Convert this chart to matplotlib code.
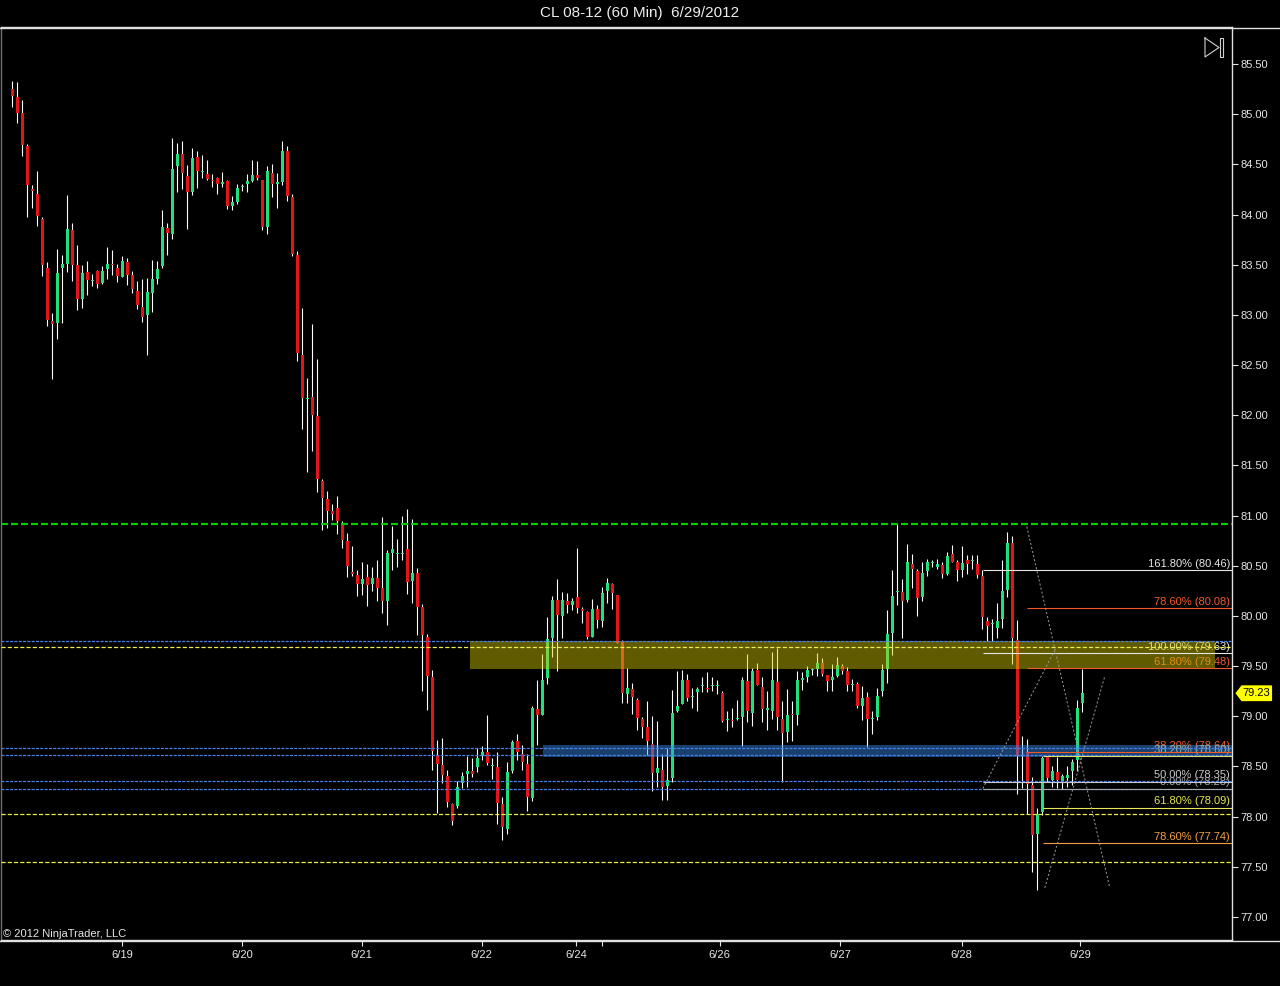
import matplotlib
matplotlib.use('Agg')
import matplotlib.pyplot as plt
import numpy as np
from matplotlib.transforms import blended_transform_factory
from matplotlib.patches import Polygon, Rectangle
from matplotlib.lines import Line2D

plt.rcParams['font.family'] = ['Liberation Sans', 'DejaVu Sans']
plt.rcParams['lines.scale_dashes'] = False

title = "CL 08-12 (60 Min)  6/29/2012"
copyright_txt = "\u00a9 2012 NinjaTrader, LLC"

opens = [85.25, 85.17, 85.01, 84.68, 84.25, 84.20, 83.96, 83.47, 82.94, 82.92,
         83.47, 83.51, 83.85, 83.50, 83.16, 83.43, 83.34, 83.44, 83.32, 83.46,
         83.51, 83.47, 83.38, 83.53, 83.40, 83.24, 83.08, 83.00, 83.22, 83.36,
         83.49, 83.87, 83.81, 84.48, 84.60, 84.38, 84.22, 84.57, 84.42, 84.40,
         84.34, 84.36, 84.30, 84.33, 84.09, 84.13, 84.27, 84.30, 84.33, 84.39,
         84.34, 83.88, 84.41, 84.30, 84.32, 84.63, 84.17, 83.60, 82.60, 82.16,
         82.18, 81.99, 81.34, 81.17, 81.05, 81.08, 80.91, 80.75, 80.44, 80.41,
         80.32, 80.39, 80.32, 80.38, 80.28, 80.15, 80.63, 80.62, 80.62, 80.67,
         80.35, 80.43, 80.09, 79.79, 79.39, 78.61, 78.51, 78.41, 78.13, 78.11,
         78.34, 78.43, 78.46, 78.49, 78.60, 78.64, 78.50, 78.49, 78.13, 77.88,
         78.46, 78.75, 78.62, 78.52, 78.19, 79.07, 79.01, 79.38, 79.78, 80.16,
         80.00, 80.15, 80.11, 80.19, 80.07, 80.04, 79.79, 80.07, 79.95, 80.25,
         80.32, 80.21, 79.74, 79.22, 79.27, 79.16, 78.97, 78.89, 78.72, 78.44,
         78.47, 78.31, 78.39, 79.05, 79.12, 79.36, 79.19, 79.24, 79.30, 79.28,
         79.30, 79.30, 79.23, 78.96, 78.96, 78.97, 78.99, 79.35, 79.03, 79.46,
         79.29, 79.06, 79.05, 79.34, 78.97, 78.84, 79.02, 79.01, 79.36, 79.39,
         79.46, 79.47, 79.53, 79.41, 79.36, 79.40, 79.50, 79.45, 79.31, 79.32,
         79.10, 79.19, 78.97, 78.99, 79.25, 79.47, 79.83, 80.24, 80.24, 80.16,
         80.52, 80.45, 80.19, 80.45, 80.53, 80.49, 80.51, 80.42, 80.62, 80.54,
         80.46, 80.56, 80.55, 80.52, 80.40, 79.95, 79.92, 79.88, 79.97, 80.26,
         80.73, 79.76, 78.60, 78.64, 78.32, 77.83, 78.05, 78.59, 78.37, 78.45,
         78.36, 78.39, 78.46, 78.56, 79.13]
highs = [85.33, 85.32, 85.14, 84.70, 84.29, 84.43, 83.98, 83.53, 83.02, 83.66,
         83.60, 84.19, 83.92, 83.70, 83.50, 83.54, 83.41, 83.45, 83.49, 83.68,
         83.65, 83.51, 83.59, 83.57, 83.44, 83.34, 83.36, 83.37, 83.55, 83.54,
         84.05, 83.92, 84.76, 84.71, 84.73, 84.49, 84.66, 84.63, 84.59, 84.54,
         84.40, 84.37, 84.42, 84.34, 84.18, 84.30, 84.30, 84.40, 84.54, 84.53,
         84.34, 84.48, 84.50, 84.41, 84.73, 84.68, 84.20, 83.64, 83.07, 82.37,
         82.91, 82.56, 81.36, 81.25, 81.12, 81.20, 80.95, 80.83, 80.70, 80.46,
         80.54, 80.52, 80.49, 80.56, 80.99, 80.66, 80.90, 80.77, 81.00, 81.07,
         80.97, 80.48, 80.12, 79.82, 79.46, 78.76, 78.78, 78.47, 78.14, 78.36,
         78.45, 78.60, 78.58, 78.68, 78.70, 79.01, 78.58, 78.64, 78.20, 78.54,
         78.76, 78.82, 78.71, 78.62, 79.10, 79.36, 79.62, 79.99, 80.20, 80.37,
         80.24, 80.23, 80.18, 80.68, 80.09, 80.05, 80.17, 80.11, 80.29, 80.38,
         80.33, 80.21, 79.76, 79.48, 79.33, 79.18, 78.99, 79.15, 79.00, 78.95,
         78.62, 78.68, 79.26, 79.45, 79.46, 79.42, 79.28, 79.29, 79.39, 79.44,
         79.39, 79.36, 79.25, 79.05, 79.08, 79.16, 79.39, 79.62, 79.48, 79.53,
         79.39, 79.25, 79.64, 79.68, 79.15, 79.27, 79.15, 79.45, 79.44, 79.50,
         79.48, 79.63, 79.58, 79.41, 79.52, 79.59, 79.52, 79.49, 79.37, 79.34,
         79.30, 79.24, 79.05, 79.28, 79.52, 80.06, 80.46, 80.92, 80.37, 80.72,
         80.62, 80.47, 80.54, 80.57, 80.56, 80.57, 80.54, 80.64, 80.71, 80.56,
         80.70, 80.61, 80.61, 80.61, 80.46, 79.99, 79.97, 80.13, 80.56, 80.84,
         80.80, 79.96, 78.80, 78.77, 78.40, 78.09, 78.60, 78.60, 78.50, 78.59,
         78.43, 78.50, 78.57, 79.16, 79.47]
lows = [85.07, 84.91, 84.58, 83.98, 84.07, 83.89, 83.39, 82.89, 82.36, 82.76,
        82.92, 83.43, 83.34, 83.05, 83.07, 83.20, 83.29, 83.27, 83.31, 83.36,
        83.40, 83.33, 83.38, 83.30, 83.22, 83.06, 82.93, 82.60, 83.03, 83.31,
        83.47, 83.60, 83.76, 84.22, 84.25, 83.86, 84.19, 84.26, 84.36, 84.34,
        84.27, 84.20, 84.27, 84.06, 84.05, 84.11, 84.23, 84.22, 84.32, 84.34,
        83.85, 83.81, 84.17, 84.07, 84.29, 84.14, 83.59, 82.54, 81.86, 81.43,
        81.64, 81.24, 80.86, 80.88, 80.96, 80.82, 80.68, 80.39, 80.40, 80.20,
        80.21, 80.10, 80.25, 80.15, 80.03, 79.91, 80.46, 80.49, 80.56, 80.22,
        80.13, 79.81, 79.25, 79.06, 78.47, 78.04, 78.34, 78.10, 77.92, 78.09,
        78.29, 78.30, 78.40, 78.45, 78.56, 78.51, 78.38, 77.93, 77.77, 77.83,
        78.44, 78.56, 78.47, 78.06, 78.16, 78.71, 79.01, 79.32, 79.59, 79.45,
        79.78, 80.03, 80.06, 80.03, 79.93, 79.77, 79.79, 79.88, 79.89, 80.13,
        80.07, 79.73, 79.13, 79.13, 79.02, 78.86, 78.78, 78.61, 78.26, 78.30,
        78.17, 78.17, 78.35, 79.04, 79.12, 79.15, 79.08, 79.05, 79.24, 79.24,
        79.25, 79.22, 78.94, 78.85, 78.89, 78.96, 78.70, 78.94, 78.90, 79.31,
        78.94, 78.86, 78.97, 78.86, 78.35, 78.74, 78.75, 78.91, 79.26, 79.34,
        79.41, 79.40, 79.40, 79.25, 79.25, 79.39, 79.42, 79.25, 79.25, 79.08,
        78.96, 78.69, 78.82, 78.96, 79.20, 79.33, 79.61, 80.11, 79.78, 80.14,
        80.28, 80.00, 80.15, 80.40, 80.49, 80.47, 80.38, 80.41, 80.54, 80.35,
        80.39, 80.42, 80.47, 80.38, 79.87, 79.75, 79.75, 79.78, 79.88, 80.19,
        79.52, 78.23, 78.29, 78.03, 77.45, 77.27, 78.02, 78.35, 78.30, 78.29,
        78.28, 78.30, 78.32, 78.46, 79.04]
closes = [85.18, 85.01, 84.69, 84.29, 84.23, 83.99, 83.50, 82.95, 82.91, 83.42,
          83.51, 83.86, 83.50, 83.16, 83.42, 83.35, 83.35, 83.31, 83.44, 83.51,
          83.50, 83.39, 83.54, 83.40, 83.26, 83.10, 82.98, 83.23, 83.36, 83.46,
          83.88, 83.82, 84.45, 84.60, 84.41, 84.22, 84.56, 84.43, 84.43, 84.35,
          84.33, 84.30, 84.32, 84.09, 84.13, 84.26, 84.28, 84.33, 84.39, 84.36,
          83.88, 84.43, 84.30, 84.32, 84.63, 84.18, 83.61, 82.62, 82.17, 82.17,
          82.00, 81.36, 81.18, 81.05, 81.02, 80.95, 80.76, 80.50, 80.42, 80.32,
          80.37, 80.31, 80.38, 80.28, 80.15, 80.63, 80.67, 80.63, 80.63, 80.34,
          80.43, 80.09, 79.81, 79.40, 78.65, 78.52, 78.42, 78.15, 77.96, 78.30,
          78.41, 78.46, 78.43, 78.58, 78.64, 78.53, 78.50, 78.14, 77.90, 78.45,
          78.74, 78.64, 78.54, 78.20, 79.08, 79.01, 79.36, 79.77, 80.16, 80.01,
          80.16, 80.11, 80.15, 80.08, 80.05, 79.79, 80.07, 79.96, 80.23, 80.33,
          80.23, 79.73, 79.23, 79.28, 79.19, 78.98, 78.89, 78.75, 78.44, 78.48,
          78.30, 78.37, 79.03, 79.10, 79.36, 79.18, 79.20, 79.27, 79.30, 79.27,
          79.31, 79.30, 78.95, 78.96, 78.95, 78.98, 79.36, 79.05, 79.45, 79.31,
          79.07, 79.08, 79.36, 78.99, 78.83, 79.01, 79.01, 79.36, 79.38, 79.46,
          79.47, 79.53, 79.42, 79.35, 79.39, 79.51, 79.45, 79.31, 79.32, 79.10,
          79.18, 78.97, 78.98, 79.20, 79.46, 79.82, 80.20, 80.25, 80.15, 80.54,
          80.47, 80.18, 80.43, 80.54, 80.54, 80.52, 80.42, 80.60, 80.54, 80.46,
          80.53, 80.52, 80.55, 80.41, 79.99, 79.90, 79.92, 79.95, 80.25, 80.73,
          79.78, 78.60, 78.61, 78.33, 77.82, 78.03, 78.58, 78.39, 78.46, 78.37,
          78.41, 78.42, 78.54, 79.08, 79.23]

tick_pos = [21.9, 45.9, 69.9, 93.9, 112.7, 118.0, 141.5, 165.5, 189.9, 213.5]
tick_labels = ['6/19', '6/20', '6/21', '6/22', '6/24', '', '6/26', '6/27', '6/28', '6/29']
price_ticks = [77.0, 77.5, 78.0, 78.5, 79.0, 79.5, 80.0, 80.5, 81.0, 81.5,
               82.0, 82.5, 83.0, 83.5, 84.0, 84.5, 85.0, 85.5]

green_level = 80.92
blue_levels = [79.75, 78.68, 78.61, 78.36, 78.28]
yellow_levels = [79.69, 78.03, 77.55]

yellow_zone_x = [91.5, 240.5]
yellow_zone_y = [79.47, 79.75]
blue_zone_x = [106.1, 244.0]
blue_zone_y = [78.59, 78.71]

fib_pcts = ['161.80%', '78.60%', '100.00%', '61.80%', '38.20%', '38.20%',
            '50.00%', '0.00%', '61.80%', '78.60%']
fib_levels = [80.46, 80.08, 79.63, 79.48, 78.64, 78.60, 78.35, 78.28, 78.09, 77.74]
fib_start = [194.1, 202.9, 194.1, 202.9, 202.9, 206.2, 194.1, 194.1, 206.2, 206.2]
fib_colors = ['#E6E6E6', '#F05A28', '#E6E6E6', '#F05A28', '#F05A28', '#E0E070',
              '#C8C8C8', '#A8A8A8', '#E8E850', '#F5A040']

diag_x = [[202.9, 219.5], [194.1, 208.5], [206.5, 218.5]]
diag_y = [[80.89, 77.29], [78.28, 79.66], [77.29, 79.40]]

UP = '#1FE07C'
DOWN = '#E3141A'

fig = plt.figure(figsize=(12.8, 9.86), dpi=100, facecolor='black')
W, H = 1280.0, 986.0
ax = fig.add_axes([1 / W, 46 / H, 1231 / W, 913 / H])
ax.set_facecolor('black')

n = len(opens)
x = np.arange(n)
O = np.array(opens); Hh = np.array(highs); L = np.array(lows); C = np.array(closes)
up = C >= O
cols = np.where(up, UP, DOWN)
ax.vlines(x, L, Hh, color='white', lw=0.8, zorder=2)
bottom = np.minimum(O, C)
height = np.maximum(np.abs(C - O), 0.012)
ax.bar(x, height, bottom=bottom, width=0.62, color=cols, linewidth=0, zorder=3)

xmin, xmax = -2.26, 243.94
ax.set_xlim(xmin, xmax)
ax.set_ylim(76.771, 85.869)

# fib labels (under zones)
tr_ax_data = blended_transform_factory(ax.transAxes, ax.transData)
for pct, lvl, c in zip(fib_pcts, fib_levels, fib_colors):
    ax.text(0.9985, lvl + 0.012, f"{pct} ({lvl:.2f})", transform=tr_ax_data,
            ha='right', va='bottom', color=c, fontsize=8, zorder=4)

# zones
ax.add_patch(Rectangle((yellow_zone_x[0], yellow_zone_y[0]),
                       yellow_zone_x[1] - yellow_zone_x[0], yellow_zone_y[1] - yellow_zone_y[0],
                       facecolor=(0.84, 0.80, 0.0), alpha=0.45, edgecolor='none', zorder=5))
ax.add_patch(Rectangle((blue_zone_x[0], blue_zone_y[0]),
                       blue_zone_x[1] - blue_zone_x[0], blue_zone_y[1] - blue_zone_y[0],
                       facecolor=(0.22, 0.55, 0.94), alpha=0.45, edgecolor='none', zorder=5))

# horizontal levels
ax.axhline(green_level, color='#00CC00', lw=1.6, ls=(0, (5.0, 2.2)), zorder=6)
for lv in blue_levels:
    ax.axhline(lv, color='#4A7FE8', lw=0.9, ls=(0, (2.2, 0.9)), zorder=6)
for lv in yellow_levels:
    ax.axhline(lv, color='#EEEE50', lw=0.9, ls=(0, (3.0, 1.5)), zorder=6)

# fib lines
for lvl, st, c in zip(fib_levels, fib_start, fib_colors):
    ax.plot([st, xmax], [lvl, lvl], color=c, lw=0.8, zorder=6, solid_capstyle='butt')

# diagonal dotted lines
for dx, dy in zip(diag_x, diag_y):
    ax.plot(dx, dy, color='#9A9A9A', lw=0.7, ls=(0, (1.5, 1.5)), zorder=6)

# axes styling
for side in ['top', 'bottom', 'left', 'right']:
    ax.spines[side].set_color('#E0E0E0')
    ax.spines[side].set_linewidth(1.0)
ax.spines['left'].set_color('#707070')

ax.yaxis.tick_right()
ax.set_yticks(price_ticks)
ax.set_yticklabels([f"{p:.2f}" for p in price_ticks])
ax.tick_params(axis='y', colors='#E6E6E6', labelsize=8, length=4, width=0.8, pad=2)
ax.set_xticks(tick_pos)
ax.set_xticklabels(tick_labels)
ax.tick_params(axis='x', colors='#E6E6E6', labelsize=8, length=4.5, width=0.8, pad=3)

# last price marker
p = closes[-1]
poly = Polygon([(1.0035, p), (1.0080, p + 0.072), (1.0320, p + 0.072),
                (1.0320, p - 0.072), (1.0080, p - 0.072)], closed=True,
               transform=tr_ax_data, facecolor='#FFFF00', edgecolor='#FFFF00',
               clip_on=False, zorder=8)
ax.add_patch(poly)
ax.text(1.0200, p, f"{p:.2f}", transform=tr_ax_data, ha='center', va='center',
        color='black', fontsize=8, zorder=9, clip_on=False)

# copyright
ax.text(0.002, 0.001, copyright_txt, transform=ax.transAxes, ha='left', va='bottom',
        color='#E6E6E6', fontsize=8, zorder=9)

# title and frame lines across full width
fig.text(0.5, 1 - 13 / H, title, ha='center', va='center', color='#EEEEEE', fontsize=11)
fig.add_artist(Line2D([0, 1], [1 - 27.5 / H] * 2, transform=fig.transFigure,
                      color='#E0E0E0', lw=1.0))
fig.add_artist(Line2D([0, 1], [1 - 940.5 / H] * 2, transform=fig.transFigure,
                      color='#E0E0E0', lw=1.0))

# top-right icon (triangle and bar)
def fx(px):
    return (px - 1) / 1231.0

def fy(py):
    return (940 - py) / 913.0

ax.plot([fx(1205), fx(1219), fx(1205), fx(1205)], [fy(38), fy(47.5), fy(57), fy(38)],
        transform=ax.transAxes, color='#D0D0D0', lw=0.8, zorder=9, clip_on=False)
ax.add_patch(Rectangle((fx(1219.5), fy(57)), fx(1223) - fx(1219.5), fy(38) - fy(57),
                       transform=ax.transAxes, facecolor='none', edgecolor='#D0D0D0',
                       lw=0.8, zorder=9))

fig.savefig('out.png', dpi=100, facecolor='black')
